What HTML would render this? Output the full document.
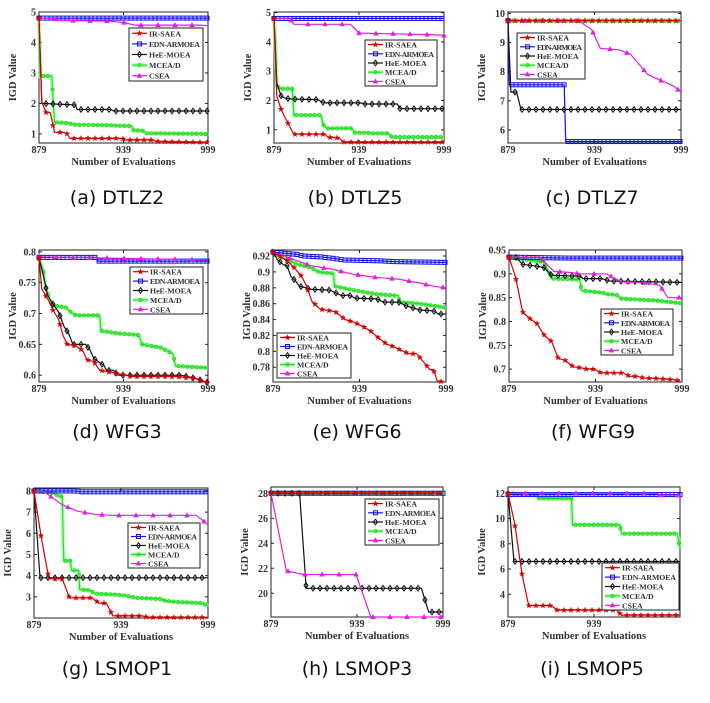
<!DOCTYPE html>
<html><head><meta charset="utf-8">
<style>
html,body{margin:0;padding:0;background:#fff;}
svg{display:block;}
.t{font-family:"Liberation Serif",serif;font-weight:bold;fill:#333;}
.cap{font-family:"DejaVu Sans","Liberation Sans",sans-serif;fill:#111;}
</style></head>
<body>
<svg id="s" width="710" height="703" xmlns="http://www.w3.org/2000/svg"></svg>
<script>
const NS="http://www.w3.org/2000/svg";
const S=document.getElementById('s');
function el(n,a,p){const e=document.createElementNS(NS,n);for(const k in a)e.setAttribute(k,a[k]);(p||S).appendChild(e);return e;}
function txt(x,y,s,cls,size,anchor,extra){const e=el('text',Object.assign({x:x,y:y,'class':cls,'font-size':size,'text-anchor':anchor||'middle'},extra||{}));e.textContent=s;return e;}
const COL={ir:'#d40000',edn:'#1010ee',hee:'#111',mc:'#22dd22',cs:'#e020e0'};
function marker(g,type,x,y){
 const c=COL[type];
 if(type==='ir'){let p=[];for(let i=0;i<10;i++){const r=i%2?1.4:3.4,a=-Math.PI/2+i*Math.PI/5;p.push((x+r*Math.cos(a)).toFixed(1)+','+(y+r*Math.sin(a)).toFixed(1));}el('polygon',{points:p.join(' '),fill:c},g);}
 else if(type==='edn')el('rect',{x:x-2,y:y-2,width:4,height:4,fill:'none',stroke:c,'stroke-width':1},g);
 else if(type==='hee')el('polygon',{points:`${x},${y-2.8} ${x+2},${y} ${x},${y+2.8} ${x-2},${y}`,fill:'none',stroke:c,'stroke-width':1},g);
 else if(type==='mc')el('circle',{cx:x,cy:y,r:1.6,fill:'none',stroke:c,'stroke-width':1},g);
 else el('polygon',{points:`${x},${y-3} ${x+2.8},${y+2} ${x-2.8},${y+2}`,fill:c},g);
}
const SP={ir:7,edn:4,hee:7,mc:4.5,cs:17};
function plot(P){
 const {L,R,T,B}=P;
 const g=el('g',{});
 const X=v=>L+(v-P.xd[0])/(P.xd[1]-P.xd[0])*(R-L);
 const Y=v=>T+(P.yd[1]-v)/(P.yd[1]-P.yd[0])*(B-T);
 el('rect',{x:L,y:T,width:R-L,height:B-T,fill:'#fff',stroke:'#222','stroke-width':1},g);
 P.yt.forEach(v=>{const y=Y(v);el('line',{x1:L,y1:y,x2:L+3,y2:y,stroke:'#222'},g);el('line',{x1:R,y1:y,x2:R-3,y2:y,stroke:'#222'},g);txt(L-3,y+3.5,String(v),'t',10,'end');});
 const xe=v=>L+(v-879)/120*(R-L);
 (P.xt||[879,939,999]).forEach(v=>{const x=xe(v);el('line',{x1:x,y1:B,x2:x,y2:B-3,stroke:'#222'},g);el('line',{x1:x,y1:T,x2:x,y2:T+3,stroke:'#222'},g);txt(x,B+10,String(v),'t',10);});
 txt((L+R)/2,B+22,'Number of Evaluations','t',10.5);
 txt(L-23,(T+B)/2,'IGD Value','t',10.5,'middle',{transform:`rotate(-90 ${L-23} ${(T+B)/2})`});
 const order=['mc','edn','hee','cs','ir'];
 order.forEach(k=>{
  const d=P.s[k]; if(!d)return;
  const pts=d.map(p=>[X(p[0]),Y(p[1])]);
  const ps=pts.map(p=>p[0].toFixed(1)+','+p[1].toFixed(1)).join(' ');
  if(k==='mc')el('polyline',{points:ps,fill:'none',stroke:'#9f9','stroke-width':4,opacity:.7},g);
  el('polyline',{points:ps,fill:'none',stroke:COL[k],'stroke-width':1.2},g);
  const x0=pts[0][0],x1=pts[pts.length-1][0];
  for(let x=x0;x<=x1+0.1;x+=SP[k]){
   let y=pts[0][1];
   for(let i=0;i<pts.length-1;i++){if(x>=pts[i][0]&&x<=pts[i+1][0]){const dx=pts[i+1][0]-pts[i][0];y=dx<0.01?pts[i+1][1]:pts[i][1]+(pts[i+1][1]-pts[i][1])*(x-pts[i][0])/dx;break;} if(x>pts[i+1][0])y=pts[i+1][1];}
   marker(g,k,x,y);
  }
 });
 const [lx,ly,lw,lh]=P.lg;
 el('rect',{x:lx,y:ly,width:lw,height:lh,fill:'#fff',stroke:'#222','stroke-width':1},g);
 const names=[['ir','IR-SAEA'],['edn','EDN-ARMOEA'],['hee','HeE-MOEA'],['mc','MCEA/D'],['cs','CSEA']];
 const rh=lh/5;
 names.forEach((n,i)=>{const y=ly+rh*(i+0.5);
  if(n[0]==='mc')el('line',{x1:lx+3,y1:y,x2:lx+18,y2:y,stroke:'#9f9','stroke-width':4,opacity:.7},g);
  el('line',{x1:lx+3,y1:y,x2:lx+18,y2:y,stroke:COL[n[0]],'stroke-width':1.2},g);
  marker(g,n[0],lx+10.5,y);
  txt(lx+20,y+3,n[1],'t',7.8,'start',{textLength:n[1].length>8?lw-23:undefined}).removeAttribute(n[1].length>8?'x-none':'textLength');});
 txt(P.cx,P.cy,P.cap,'cap',19);
}
const E=[879,999];
plot({L:39,R:208,T:12,B:143,xd:E,yd:[0.70,5.0],yt:[1,2,3,4,5],lg:[129,28,74,53],cap:'(a) DTLZ2',cx:117,cy:204,s:{
 ir:[[879,4.8],[881,2.05],[884,1.7],[887,1.7],[890,1.05],[897,1.05],[899,1.0],[901,0.85],[938,0.85],[940,0.8],[960,0.8],[962,0.75],[999,0.72]],
 edn:[[879,4.8],[999,4.8]],
 hee:[[879,4.8],[881,2.0],[905,1.95],[906,1.8],[930,1.8],[932,1.75],[999,1.75]],
 mc:[[879,4.8],[880,2.9],[888,2.9],[890,1.38],[900,1.35],[905,1.3],[930,1.28],[945,1.25],[946,1.12],[953,1.1],[955,1.02],[997,1.0],[999,0.93]],
 cs:[[879,4.8],[890,4.78],[895,4.72],[930,4.7],[940,4.65],[947,4.57],[993,4.57],[999,4.55]]}});
plot({L:274,R:444,T:12,B:143,xd:E,yd:[0.55,5.02],yt:[1,2,3,4,5],lg:[365,40,72,46],cap:'(b) DTLZ5',cx:355,cy:204,s:{
 ir:[[879,4.8],[881,2.15],[884,1.7],[887,1.4],[890,1.12],[893,0.85],[915,0.85],[917,0.75],[925,0.72],[928,0.58],[999,0.58]],
 edn:[[879,4.8],[999,4.8]],
 hee:[[879,4.8],[881,2.6],[884,2.15],[887,2.08],[891,2.05],[910,2.03],[912,1.97],[915,1.92],[940,1.92],[943,1.88],[966,1.88],[968,1.72],[999,1.72]],
 mc:[[879,4.8],[880,4.0],[881,2.5],[884,2.4],[892,2.4],[893,1.5],[912,1.5],[914,1.15],[916,1.05],[934,1.05],[936,0.9],[945,0.9],[947,0.88],[960,0.88],[962,0.75],[999,0.75]],
 cs:[[879,4.8],[890,4.8],[893,4.6],[933,4.6],[939,4.3],[989,4.25],[999,4.22]]}});
plot({L:508,R:681,T:12,B:143,xd:E,yd:[5.55,10.05],yt:[6,7,8,9,10],lg:[517,33,68,46],cap:'(c) DTLZ7',cx:592,cy:204,s:{
 ir:[[879,9.75],[999,9.75]],
 mc:[[879,9.75],[999,9.75]],
 edn:[[879,9.75],[880,7.55],[918,7.55],[919,5.6],[999,5.6]],
 hee:[[879,9.75],[881,7.3],[885,7.3],[888,6.7],[999,6.7]],
 cs:[[879,9.75],[928,9.75],[937,9.45],[943,8.8],[956,8.75],[964,8.6],[976,7.9],[994,7.5],[999,7.3]]}});
plot({L:39,R:208,T:250,B:382,xd:E,yd:[0.589,0.803],yt:[0.6,0.65,0.7,0.75,0.8],lg:[130,267,73,47],cap:'(d) WFG3',cx:117,cy:438,s:{
 ir:[[879,0.79],[881,0.74],[886,0.72],[889,0.705],[893,0.69],[896,0.665],[899,0.65],[905,0.648],[910,0.64],[913,0.625],[918,0.622],[922,0.608],[930,0.605],[945,0.598],[975,0.598],[990,0.595],[995,0.59],[999,0.588]],
 edn:[[879,0.791],[920,0.791],[921,0.785],[999,0.785]],
 hee:[[879,0.79],[882,0.763],[885,0.73],[889,0.715],[893,0.702],[897,0.678],[900,0.668],[903,0.65],[912,0.65],[915,0.642],[918,0.627],[921,0.622],[925,0.616],[927,0.608],[932,0.608],[935,0.6],[980,0.6],[990,0.595],[999,0.588]],
 mc:[[879,0.79],[882,0.77],[884,0.74],[888,0.715],[891,0.712],[898,0.71],[900,0.705],[905,0.697],[922,0.697],[923,0.672],[935,0.668],[950,0.665],[952,0.65],[965,0.645],[974,0.635],[976,0.615],[999,0.612]],
 cs:[[879,0.792],[999,0.787]]}});
plot({L:273,R:446,T:250,B:382,xd:[818,1338],yd:[0.7614,0.9276],yt:[0.78,0.8,0.82,0.84,0.86,0.88,0.9,0.92],lg:[277,333,74,45],cap:'(e) WFG6',cx:357,cy:438,s:{
 ir:[[818,0.925],[858,0.915],[880,0.906],[903,0.895],[918,0.883],[935,0.863],[960,0.853],[990,0.851],[1005,0.850],[1035,0.840],[1060,0.837],[1085,0.832],[1110,0.826],[1135,0.817],[1160,0.809],[1180,0.806],[1200,0.802],[1225,0.797],[1250,0.797],[1270,0.787],[1290,0.777],[1300,0.777],[1312,0.762],[1330,0.762]],
 edn:[[818,0.925],[890,0.922],[910,0.92],[960,0.919],[1000,0.917],[1030,0.915],[1140,0.914],[1180,0.913],[1338,0.912]],
 hee:[[818,0.925],[832,0.915],[850,0.909],[860,0.908],[872,0.894],[885,0.889],[898,0.882],[935,0.878],[990,0.877],[1010,0.873],[1025,0.87],[1045,0.871],[1065,0.867],[1130,0.866],[1150,0.862],[1195,0.862],[1220,0.857],[1260,0.852],[1300,0.851],[1315,0.847],[1338,0.847]],
 mc:[[818,0.925],[845,0.918],[890,0.91],[935,0.905],[955,0.9],[1000,0.898],[1003,0.882],[1060,0.877],[1130,0.872],[1195,0.87],[1198,0.862],[1260,0.86],[1338,0.855]],
 cs:[[818,0.925],[865,0.918],[930,0.908],[1000,0.903],[1060,0.897],[1130,0.893],[1195,0.891],[1260,0.886],[1300,0.882],[1338,0.88]]}});
plot({L:509,R:682,T:250,B:382,xd:[117,637],yd:[0.673,0.95],yt:[0.7,0.75,0.8,0.85,0.9,0.95],lg:[601,309,72,46],cap:'(f) WFG9',cx:593,cy:438,s:{
 ir:[[117,0.935],[137,0.892],[158,0.82],[178,0.807],[202,0.795],[222,0.772],[245,0.758],[265,0.723],[287,0.718],[310,0.705],[330,0.703],[352,0.7],[372,0.7],[395,0.692],[460,0.692],[480,0.685],[502,0.685],[525,0.681],[545,0.681],[568,0.68],[590,0.679],[610,0.678],[632,0.675]],
 edn:[[117,0.935],[300,0.933],[637,0.933]],
 hee:[[117,0.935],[137,0.935],[158,0.92],[178,0.918],[200,0.916],[222,0.913],[245,0.897],[330,0.895],[340,0.89],[395,0.89],[420,0.885],[637,0.882]],
 mc:[[117,0.935],[220,0.925],[240,0.9],[245,0.89],[330,0.888],[335,0.865],[400,0.86],[415,0.857],[440,0.856],[455,0.848],[560,0.844],[637,0.838]],
 cs:[[117,0.935],[210,0.935],[252,0.905],[300,0.903],[330,0.9],[410,0.9],[455,0.883],[520,0.882],[570,0.876],[595,0.85],[637,0.85]]}});
plot({L:34,R:208,T:488,B:618,xd:[100,625],yd:[2.0,8.14],yt:[3,4,5,6,7,8],lg:[128,523,72,45],cap:'(g) LSMOP1',cx:117,cy:675,s:{
 ir:[[100,8.0],[122,5.8],[145,3.85],[185,3.85],[207,2.95],[275,2.95],[297,2.7],[318,2.7],[338,2.1],[425,2.1],[445,2.03],[625,2.03]],
 edn:[[100,8.0],[230,8.0],[240,7.96],[625,7.96]],
 hee:[[100,8.0],[118,3.9],[625,3.9]],
 mc:[[100,8.0],[160,7.9],[175,7.75],[185,7.75],[188,5.8],[190,4.7],[210,4.7],[213,4.25],[235,4.25],[238,3.35],[270,3.3],[285,3.15],[350,3.1],[380,3.05],[410,2.95],[480,2.9],[500,2.8],[540,2.75],[610,2.7],[625,2.55]],
 cs:[[100,8.0],[130,7.97],[185,7.35],[230,7.05],[283,6.9],[335,6.85],[590,6.85],[625,6.4]]}});
plot({L:271,R:443,T:487,B:617,xd:[122,640],yd:[18.1,28.5],yt:[20,22,24,26,28],lg:[365,499,74,46],cap:'(h) LSMOP3',cx:357,cy:675,s:{
 mc:[[122,28],[640,28]],
 edn:[[122,28],[640,28]],
 ir:[[122,28],[640,28]],
 hee:[[122,28],[208,28],[228,20.4],[575,20.4],[597,18.5],[640,18.5]],
 cs:[[122,28],[168,21.8],[220,21.5],[378,21.5],[423,18.1],[640,18.1]]}});
plot({L:508,R:680,T:487,B:617,xd:[115,630],yd:[2.2,12.5],yt:[4,6,8,10,12],xt:[879,939],lg:[602,563,77,47],cap:'(i) LSMOP5',cx:592,cy:675,s:{
 ir:[[115,12],[135,9.6],[157,5.6],[177,3.1],[245,3.1],[262,2.75],[440,2.75],[455,2.35],[630,2.35]],
 edn:[[115,11.9],[630,11.9]],
 hee:[[115,12],[133,6.6],[630,6.6]],
 mc:[[115,12],[200,11.9],[205,11.6],[305,11.6],[308,9.5],[450,9.5],[455,8.8],[622,8.8],[630,7.6]],
 cs:[[115,12],[560,12],[570,11.85],[630,11.85]]}});
</script>
</body></html>
